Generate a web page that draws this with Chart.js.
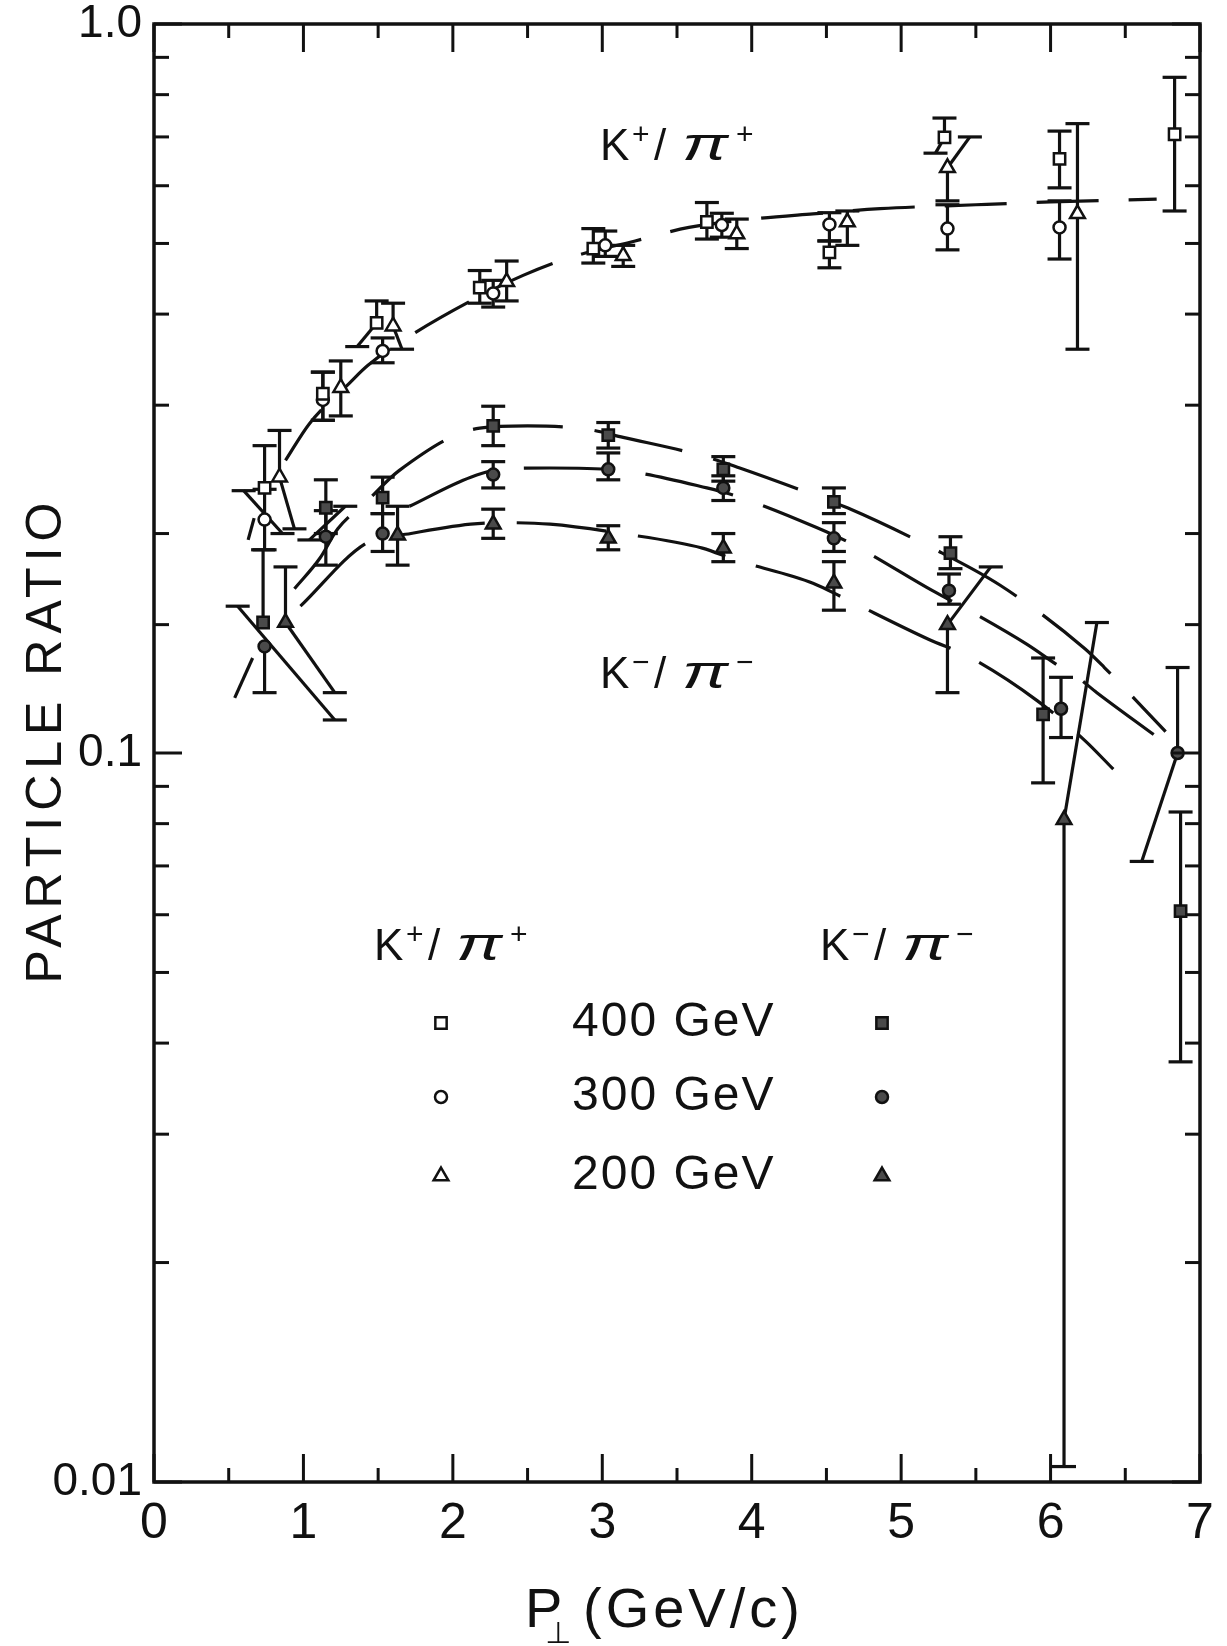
<!DOCTYPE html>
<html>
<head>
<meta charset="utf-8">
<script src="https://cdn.jsdelivr.net/npm/chart.js@4.4.1/dist/chart.umd.min.js"></script>
<style>
  html, body { margin:0; padding:0; background:#fff; }
  #wrap { width:1227px; height:1646px; }
</style>
</head>
<body>
<div id="wrap"><canvas id="c" width="1227" height="1646"></canvas></div>
<script>
var INK = '#111'
var FONT = '"Liberation Sans", "DejaVu Sans", sans-serif'
var CAP = 12

// K+/pi+ , open markers (x = P_T, y = ratio, lo/hi = error bar ends, loX/hiX = x of slanted bar end)
var kp400X  = [0.74, 1.13, 1.49, 2.18, 2.94, 3.70, 4.52, 5.29, 6.06, 6.83]
var kp400Y  = [0.231, 0.311, 0.389, 0.435, 0.492, 0.535, 0.486, 0.699, 0.653, 0.706]
var kp400Lo = [null, 0.286, 0.361, 0.414, 0.470, 0.507, 0.463, 0.665, 0.596, 0.554]
var kp400Hi = [0.264, 0.333, 0.417, 0.459, 0.524, 0.569, 0.504, 0.743, 0.713, 0.845]
var kp400LoX = [null, null, 1.36, null, null, null, null, 5.23, null, null]

var kp300X  = [0.74, 1.13, 1.53, 2.27, 3.02, 3.80, 4.52, 5.31, 6.06]
var kp300Y  = [0.209, 0.305, 0.356, 0.427, 0.497, 0.530, 0.531, 0.524, 0.526]
var kp300Lo = [0.190, 0.286, 0.343, 0.409, 0.480, 0.510, 0.504, 0.490, 0.476]
var kp300Hi = [0.230, 0.333, 0.371, 0.445, 0.520, 0.550, 0.551, 0.565, 0.572]

var kp200X  = [0.84, 1.25, 1.60, 2.36, 3.14, 3.90, 4.64, 5.31, 6.18]
var kp200Y  = [0.239, 0.317, 0.385, 0.443, 0.481, 0.515, 0.535, 0.635, 0.549]
var kp200Lo = [0.203, 0.290, 0.358, 0.417, 0.465, 0.492, 0.497, 0.572, 0.358]
var kp200Hi = [0.277, 0.345, 0.414, 0.473, 0.497, 0.540, 0.554, 0.700, 0.730]
var kp200LoX = [0.94, null, 1.66, null, null, null, null, null, null]
var kp200HiX = [null, null, null, null, null, null, null, 5.46, null]

// K-/pi- , filled markers
var km400X  = [0.73, 1.15, 1.53, 2.27, 3.04, 3.81, 4.55, 5.33, 5.95, 6.87]
var km400Y  = [0.151, 0.217, 0.224, 0.281, 0.273, 0.245, 0.221, 0.188, 0.113, 0.0607]
var km400Lo = [null, 0.200, 0.213, 0.264, 0.262, 0.236, 0.213, 0.179, 0.091, 0.0377]
var km400Hi = [0.190, 0.237, 0.239, 0.299, 0.284, 0.255, 0.231, 0.198, 0.135, 0.083]

var km300X  = [0.74, 1.15, 1.53, 2.27, 3.04, 3.81, 4.55, 5.32, 6.07, 6.85]
var km300Y  = [0.140, 0.198, 0.200, 0.241, 0.245, 0.231, 0.197, 0.167, 0.115, 0.100]
var km300Lo = [0.121, 0.181, 0.189, 0.231, 0.237, 0.222, 0.189, 0.160, 0.105, 0.071]
var km300Hi = [null, 0.215, 0.213, 0.251, 0.258, 0.240, 0.207, 0.176, 0.127, 0.131]
var km300LoX = [null, null, null, null, null, null, null, null, null, 6.61]

var km200X  = [0.88, 1.63, 2.27, 3.04, 3.81, 4.55, 5.31, 6.09]
var km200Y  = [0.151, 0.199, 0.206, 0.197, 0.191, 0.171, 0.150, 0.081]
var km200Lo = [0.121, 0.181, 0.197, 0.190, 0.183, 0.157, 0.121, 0.0105]
var km200Hi = [0.180, 0.218, 0.216, 0.205, 0.200, 0.183, 0.180, 0.151]
var km200LoX = [1.21, null, null, null, null, null, null, null]
var km200HiX = [null, null, null, null, null, null, 5.60, 6.31]

// dashed fit curves
var kpFitX = [0.88, 1.04, 1.31, 1.43, 1.71, 2.12, 2.47, 2.78, 3.22, 3.58, 4.00, 4.41, 4.86, 5.50, 6.00, 6.71]
var kpFitY = [0.252, 0.283, 0.322, 0.340, 0.373, 0.417, 0.452, 0.478, 0.504, 0.526, 0.540, 0.549, 0.558, 0.565, 0.570, 0.575]
var km400FitX = [0.94, 1.11, 1.23, 1.42, 1.64, 2.18, 2.50, 2.90, 3.14, 3.69, 3.92, 4.44, 4.64, 5.21, 5.66, 6.23, 6.36, 6.77]
var km400FitY = [0.168, 0.185, 0.203, 0.221, 0.244, 0.279, 0.281, 0.278, 0.271, 0.255, 0.246, 0.225, 0.217, 0.191, 0.170, 0.139, 0.131, 0.107]
var km300FitX = [1.71, 2.12, 2.33, 2.65, 3.13, 3.70, 3.90, 4.43, 4.66, 5.21, 5.45, 5.84, 6.07, 6.18, 6.31, 6.69]
var km300FitY = [0.218, 0.239, 0.245, 0.246, 0.244, 0.231, 0.225, 0.204, 0.194, 0.167, 0.157, 0.141, 0.131, 0.127, 0.121, 0.106]
var km200FitX = [0.98, 1.42, 1.72, 2.12, 2.33, 2.65, 3.13, 3.67, 3.89, 4.41, 4.62, 5.19, 5.44, 5.91, 6.23, 6.42]
var km200FitY = [0.159, 0.194, 0.200, 0.206, 0.207, 0.206, 0.200, 0.191, 0.184, 0.171, 0.163, 0.143, 0.136, 0.118, 0.104, 0.095]

// loose slanted strokes at low P_T: x1, y1, x2, y2, capped
var straySegs = [
  [0.56, 0.159, 1.21, 0.111, true],
  [0.54, 0.119, 0.66, 0.135, false],
  [0.63, 0.196, 0.67, 0.210, false],
  [0.60, 0.229, 0.86, 0.200, true],
  [1.04, 0.196, 1.28, 0.218, true]
]

var xTickLabels = ['0', '1', '2', '3', '4', '5', '6', '7']
var yTickLabels = {'1': '1.0', '0.1': '0.1', '0.01': '0.01'}
var energies = ['400 GeV', '300 GeV', '200 GeV']
var styles = ['rect', 'circle', 'triangle']
var radii = {rect: 8, circle: 6, triangle: 8.5}
var FILLED = '#4a4a4a'

function pts(xs, ys){
  return xs.map(function(x, i){ return {x: x, y: ys[i]} })
}

function markerSet(X, Y, Lo, Hi, LoX, HiX, style, fill){
  return {
    data: pts(X, Y), showLine: false, pointStyle: style, pointRadius: radii[style],
    pointBorderWidth: 2.5, pointBorderColor: INK, pointBackgroundColor: fill,
    borderColor: INK, backgroundColor: fill,
    errLo: Lo, errHi: Hi, errLoX: LoX || [], errHiX: HiX || [], order: 0
  }
}

function fitSet(X, Y, dash){
  return {
    data: pts(X, Y), showLine: true, pointRadius: 0, borderColor: INK, borderWidth: 3.2,
    borderDash: dash, cubicInterpolationMode: 'monotone', fill: false, order: 2
  }
}

var datasets = [
  markerSet(kp400X, kp400Y, kp400Lo, kp400Hi, kp400LoX, null, 'rect', '#fff'),
  markerSet(kp300X, kp300Y, kp300Lo, kp300Hi, null, null, 'circle', '#fff'),
  markerSet(kp200X, kp200Y, kp200Lo, kp200Hi, kp200LoX, kp200HiX, 'triangle', '#fff'),
  markerSet(km400X, km400Y, km400Lo, km400Hi, null, null, 'rect', FILLED),
  markerSet(km300X, km300Y, km300Lo, km300Hi, km300LoX, null, 'circle', FILLED),
  markerSet(km200X, km200Y, km200Lo, km200Hi, km200LoX, km200HiX, 'triangle', FILLED),
  fitSet(kpFitX, kpFitY, [62, 30]),
  fitSet(km400FitX, km400FitY, [90, 32]),
  fitSet(km300FitX, km300FitY, [90, 32]),
  fitSet(km200FitX, km200FitY, [90, 32])
]
straySegs.forEach(function(s){
  datasets.push({
    data: [{x: s[0], y: s[1]}, {x: s[2], y: s[3]}], showLine: true, pointRadius: 0,
    borderColor: INK, borderWidth: 3.2, caps: s[4], order: 1
  })
})

function seg(ctx, x1, y1, x2, y2){
  ctx.beginPath(); ctx.moveTo(x1, y1); ctx.lineTo(x2, y2); ctx.stroke()
}

var errorBars = {
  id: 'errorBars',
  beforeDatasetsDraw: function(chart){
    var ctx = chart.ctx, xs = chart.scales.x, ys = chart.scales.y
    ctx.save()
    ctx.strokeStyle = INK; ctx.lineWidth = 3.2
    chart.data.datasets.forEach(function(ds){
      if (ds.errHi) ds.data.forEach(function(p, i){
        var px = xs.getPixelForValue(p.x), py = ys.getPixelForValue(p.y)
        ;[[ds.errLo[i], ds.errLoX[i]], [ds.errHi[i], ds.errHiX[i]]].forEach(function(e){
          if (e[0] == null) return
          var ex = e[1] == null ? px : xs.getPixelForValue(e[1])
          var ey = ys.getPixelForValue(e[0])
          seg(ctx, px, py, ex, ey)
          seg(ctx, ex - CAP, ey, ex + CAP, ey)
        })
      })
      if (ds.caps) ds.data.forEach(function(p){
        var px = xs.getPixelForValue(p.x), py = ys.getPixelForValue(p.y)
        seg(ctx, px - CAP, py, px + CAP, py)
      })
    })
    ctx.restore()
  }
}

function isDecade(v){
  var l = Math.log10(v)
  return Math.abs(l - Math.round(l)) < 1e-6
}

var frameTicks = {
  id: 'frameTicks',
  afterDraw: function(chart){
    var ctx = chart.ctx, a = chart.chartArea, xs = chart.scales.x, ys = chart.scales.y
    ctx.save()
    ctx.strokeStyle = INK; ctx.lineWidth = 3.5
    ctx.strokeRect(a.left, a.top, a.right - a.left, a.bottom - a.top)
    ctx.lineWidth = 3
    xs.ticks.forEach(function(t){
      var px = xs.getPixelForValue(t.value)
      var len = Math.abs(t.value - Math.round(t.value)) < 1e-6 ? 28 : 14
      seg(ctx, px, a.bottom, px, a.bottom - len)
      seg(ctx, px, a.top, px, a.top + len)
    })
    ys.ticks.forEach(function(t){
      var py = ys.getPixelForValue(t.value)
      var len = isDecade(t.value) ? 28 : 15
      seg(ctx, a.left, py, a.left + len, py)
      seg(ctx, a.right, py, a.right - len, py)
    })
    ctx.restore()
  }
}

function drawMarker(ctx, style, x, y, r, fill){
  ctx.beginPath()
  if (style == 'rect'){
    var s = r * Math.SQRT1_2
    ctx.rect(x - s, y - s, 2 * s, 2 * s)
  } else if (style == 'circle'){
    ctx.arc(x, y, r, 0, Math.PI * 2)
  } else {
    var rad = 0
    ctx.moveTo(x + Math.sin(rad) * r, y - Math.cos(rad) * r)
    rad += Math.PI * 2 / 3
    ctx.lineTo(x + Math.sin(rad) * r, y - Math.cos(rad) * r)
    rad += Math.PI * 2 / 3
    ctx.lineTo(x + Math.sin(rad) * r, y - Math.cos(rad) * r)
    ctx.closePath()
  }
  ctx.fillStyle = fill; ctx.fill()
  ctx.lineWidth = 2.5; ctx.strokeStyle = INK; ctx.stroke()
}

function drawRatio(ctx, x, base, sign){
  ctx.fillStyle = INK
  ctx.textAlign = 'left'; ctx.textBaseline = 'alphabetic'
  ctx.font = '44px ' + FONT; ctx.fillText('K', x, base)
  ctx.font = '30px ' + FONT; ctx.fillText(sign, x + 32, base - 16)
  ctx.font = '44px ' + FONT; ctx.fillText('/', x + 54, base)
  ctx.save()
  ctx.translate(x + 82, base); ctx.scale(1.5, 1)
  ctx.font = 'italic 46px ' + FONT; ctx.fillText('\u03c0', 0, 0)
  ctx.restore()
  ctx.font = '30px ' + FONT; ctx.fillText(sign, x + 136, base - 16)
}

var annotations = {
  id: 'annotations',
  afterDraw: function(chart){
    var ctx = chart.ctx
    ctx.save()
    ctx.fillStyle = INK
    // y title
    ctx.save()
    ctx.translate(47, 740); ctx.rotate(-Math.PI / 2)
    ctx.font = '50px ' + FONT; ctx.letterSpacing = '6px'
    ctx.textAlign = 'center'; ctx.textBaseline = 'middle'
    ctx.fillText('PARTICLE RATIO', 0, 0)
    ctx.restore()
    // x title
    ctx.textAlign = 'left'; ctx.textBaseline = 'alphabetic'
    ctx.letterSpacing = '4px'
    ctx.font = '56px ' + FONT; ctx.fillText('P', 525, 1627)
    ctx.fillText('(GeV/c)', 583, 1627)
    ctx.letterSpacing = '0px'
    ctx.font = '30px "DejaVu Sans", sans-serif'; ctx.fillText('\u22a5', 545, 1643)
    // curve labels
    drawRatio(ctx, 600, 160, '+')
    drawRatio(ctx, 600, 688, '\u2212')
    // legend
    drawRatio(ctx, 374, 960, '+')
    drawRatio(ctx, 820, 960, '\u2212')
    var rows = [1023, 1097, 1176]
    energies.forEach(function(lbl, i){
      drawMarker(ctx, styles[i], 441, rows[i], radii[styles[i]], '#fff')
      drawMarker(ctx, styles[i], 882, rows[i], radii[styles[i]], FILLED)
      ctx.fillStyle = INK
      ctx.font = '48px ' + FONT; ctx.letterSpacing = '2px'
      ctx.textAlign = 'left'; ctx.textBaseline = 'middle'
      ctx.fillText(lbl, 572, rows[i])
      ctx.letterSpacing = '0px'
    })
    ctx.restore()
  }
}

var chart = new Chart(document.getElementById('c'), {
  type: 'scatter',
  data: { datasets: datasets },
  options: {
    responsive: false,
    animation: false,
    devicePixelRatio: 1,
    layout: { padding: { top: 24, right: 27, left: 0, bottom: 0 } },
    plugins: { legend: { display: false }, tooltip: { enabled: false } },
    scales: {
      x: {
        type: 'linear', min: 0, max: 7,
        grid: { display: false, drawTicks: false },
        border: { display: false },
        ticks: {
          stepSize: 0.5, autoSkip: false, maxRotation: 0, padding: 12, color: INK,
          font: { family: FONT, size: 50 },
          callback: function(v){
            return Math.abs(v - Math.round(v)) < 1e-6 ? xTickLabels[Math.round(v)] : ''
          }
        },
        afterFit: function(s){ s.height = 164; s.paddingLeft = 0; s.paddingRight = 0 }
      },
      y: {
        type: 'logarithmic', min: 0.01, max: 1,
        grid: { display: false, drawTicks: false },
        border: { display: false },
        ticks: {
          autoSkip: false, padding: 12, color: INK,
          font: { family: FONT, size: 46 },
          callback: function(v){
            return isDecade(v) ? yTickLabels[String(Math.pow(10, Math.round(Math.log10(v))))] : ''
          }
        },
        afterFit: function(s){ s.width = 154; s.paddingTop = 0; s.paddingBottom = 0 }
      }
    }
  },
  plugins: [errorBars, frameTicks, annotations]
})
</script>
</body>
</html>
